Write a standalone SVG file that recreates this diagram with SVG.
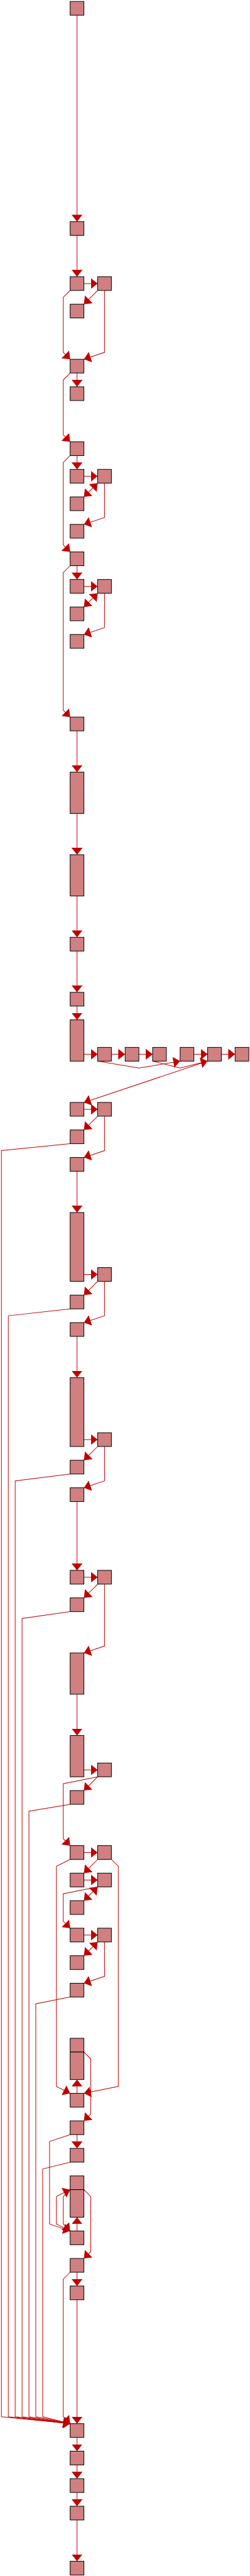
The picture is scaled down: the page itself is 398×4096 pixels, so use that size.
<svg xmlns="http://www.w3.org/2000/svg" width="398" height="4096" viewBox="0 0 398 4096">
<style>
.n{fill:#d08080;stroke:#000;stroke-width:1.1}
.e{fill:none;stroke:#c00000;stroke-width:1.1;marker-end:url(#a)}
.b{marker-start:url(#a)}
</style>
<defs>
<marker id="a" viewBox="0 0 12 19" refX="12" refY="9.5" markerWidth="12" markerHeight="19" markerUnits="userSpaceOnUse" orient="auto-start-reverse"><path d="M0,0L12,9.5L0,19z" fill="#c00000"/></marker>
</defs>
<rect width="398" height="4096" fill="#fff"/>
<g transform="scale(0.9118)">
<g id="connectors">
<path class="e" d="M134.5,26.5V386.5"/>
<path class="e" d="M134.5,410.5V482.5"/>
<path class="e" d="M146.5,494.5H170.5"/>
<path class="e" d="M170.5,506.5L146.5,530.5"/>
<path class="e" d="M122.5,506.5L110.5,518.5V614.5L122.5,626.5"/>
<path class="e" d="M182.5,506.5V614.5L146.5,626.5"/>
<path class="e" d="M134.5,650.5V674.5"/>
<path class="e" d="M122.5,650.5L110.5,662.5V758.5L122.5,770.5"/>
<path class="e" d="M134.5,794.5V818.5"/>
<path class="e" d="M122.5,794.5L110.5,806.5V950.5L122.5,962.5"/>
<path class="e" d="M146.5,830.5H170.5"/>
<path class="e b" d="M170.5,842.5L146.5,866.5"/>
<path class="e" d="M182.5,842.5V902.5L146.5,914.5"/>
<path class="e" d="M134.5,986.5V1010.5"/>
<path class="e" d="M122.5,986.5L110.5,998.5V1238.5L122.5,1250.5"/>
<path class="e" d="M146.5,1022.5H170.5"/>
<path class="e b" d="M170.5,1034.5L146.5,1058.5"/>
<path class="e" d="M182.5,1034.5V1094.5L146.5,1106.5"/>
<path class="e" d="M134.5,1274.5V1346.5"/>
<path class="e" d="M134.5,1418.5V1490.5"/>
<path class="e" d="M134.5,1562.5V1634.5"/>
<path class="e" d="M134.5,1658.5V1730.5"/>
<path class="e" d="M134.5,1754.5V1778.5"/>
<path class="e" d="M146.5,1838.5H170.5"/>
<path class="e" d="M194.5,1838.5H218.5"/>
<path class="e" d="M242.5,1838.5H266.5"/>
<path class="e" d="M338.5,1838.5H362.5"/>
<path class="e" d="M386.5,1838.5H410.5"/>
<path class="e" d="M170.5,1850.5L242.5,1862.5L314.5,1850.5"/>
<path class="e" d="M266.5,1850.5L314.5,1862.5L362.5,1850.5"/>
<path class="e" d="M362.5,1850.5L146.5,1922.5"/>
<path class="e" d="M146.5,1934.5H170.5"/>
<path class="e" d="M170.5,1946.5L146.5,1970.5"/>
<path class="e" d="M182.5,1946.5V2006.5L146.5,2018.5"/>
<path class="e" d="M122.5,1994.5L2.5,2006.5V4214.5L122.5,4226.5"/>
<path class="e" d="M134.5,2042.5V2114.5"/>
<path class="e" d="M146.5,2222.5H170.5"/>
<path class="e" d="M170.5,2234.5L146.5,2258.5"/>
<path class="e" d="M182.5,2234.5V2294.5L146.5,2306.5"/>
<path class="e" d="M122.5,2282.5L14.5,2294.5V4214.5L122.5,4226.5"/>
<path class="e" d="M134.5,2330.5V2402.5"/>
<path class="e" d="M146.5,2510.5H170.5"/>
<path class="e" d="M170.5,2522.5L146.5,2546.5"/>
<path class="e" d="M182.5,2522.5V2582.5L146.5,2594.5"/>
<path class="e" d="M122.5,2570.5L26.5,2582.5V4214.5L122.5,4226.5"/>
<path class="e" d="M134.5,2618.5V2738.5"/>
<path class="e" d="M146.5,2750.5H170.5"/>
<path class="e" d="M170.5,2762.5L146.5,2786.5"/>
<path class="e" d="M182.5,2762.5V2870.5L146.5,2882.5"/>
<path class="e" d="M122.5,2810.5L38.5,2822.5V4214.5L122.5,4226.5"/>
<path class="e" d="M134.5,2954.5V3026.5"/>
<path class="e" d="M146.5,3086.5H170.5"/>
<path class="e" d="M170.5,3098.5L146.5,3122.5"/>
<path class="e" d="M170.5,3098.5L110.5,3110.5V3206.5L122.5,3218.5"/>
<path class="e" d="M122.5,3146.5L50.5,3158.5V4214.5L122.5,4226.5"/>
<path class="e" d="M146.5,3230.5H170.5"/>
<path class="e" d="M170.5,3242.5L146.5,3266.5"/>
<path class="e" d="M122.5,3242.5L98.5,3254.5V3638.5L122.5,3650.5"/>
<path class="e" d="M194.5,3242.5L206.5,3254.5V3638.5L146.5,3650.5"/>
<path class="e" d="M146.5,3278.5H170.5"/>
<path class="e b" d="M170.5,3290.5L146.5,3314.5"/>
<path class="e" d="M170.5,3290.5L110.5,3302.5V3350.5L122.5,3362.5"/>
<path class="e" d="M146.5,3374.5H170.5"/>
<path class="e b" d="M170.5,3386.5L146.5,3410.5"/>
<path class="e" d="M182.5,3386.5V3446.5L146.5,3458.5"/>
<path class="e" d="M122.5,3482.5L62.5,3494.5V4214.5L122.5,4226.5"/>
<path class="e" d="M134.5,3650.5V3626.5"/>
<path class="e" d="M146.5,3578.5L158.5,3590.5V3686.5L146.5,3698.5"/>
<path class="e" d="M134.5,3722.5V3746.5"/>
<path class="e" d="M122.5,3722.5L86.5,3734.5V3878.5L122.5,3890.5"/>
<path class="e" d="M122.5,3770.5L74.5,3782.5V4214.5L122.5,4226.5"/>
<path class="e" d="M134.5,3890.5V3866.5"/>
<path class="e" d="M122.5,3890.5L98.5,3878.5V3830.5L122.5,3818.5"/>
<path class="e" d="M122.5,3818.5L110.5,3830.5V3878.5L122.5,3890.5"/>
<path class="e" d="M146.5,3818.5L158.5,3830.5V3926.5L146.5,3938.5"/>
<path class="e" d="M134.5,3962.5V3986.5"/>
<path class="e" d="M122.5,3962.5L110.5,3974.5V4214.5L122.5,4226.5"/>
<path class="e" d="M134.5,4010.5V4226.5"/>
<path class="e" d="M134.5,4250.5V4274.5"/>
<path class="e" d="M134.5,4298.5V4322.5"/>
<path class="e" d="M134.5,4346.5V4370.5"/>
<path class="e" d="M134.5,4394.5V4466.5"/>
</g>
<g id="n0"><rect class="n" x="122.5" y="2.5" width="24" height="24"/></g>
<g id="n8"><rect class="n" x="122.5" y="386.5" width="24" height="24"/></g>
<g id="n10"><rect class="n" x="122.5" y="482.5" width="24" height="24"/></g>
<g id="n10b"><rect class="n" x="170.5" y="482.5" width="24" height="24"/></g>
<g id="n11"><rect class="n" x="122.5" y="530.5" width="24" height="24"/></g>
<g id="n13"><rect class="n" x="122.5" y="626.5" width="24" height="24"/></g>
<g id="n14"><rect class="n" x="122.5" y="674.5" width="24" height="24"/></g>
<g id="n16"><rect class="n" x="122.5" y="770.5" width="24" height="24"/></g>
<g id="n17"><rect class="n" x="122.5" y="818.5" width="24" height="24"/></g>
<g id="n17b"><rect class="n" x="170.5" y="818.5" width="24" height="24"/></g>
<g id="n18"><rect class="n" x="122.5" y="866.5" width="24" height="24"/></g>
<g id="n19"><rect class="n" x="122.5" y="914.5" width="24" height="24"/></g>
<g id="n20"><rect class="n" x="122.5" y="962.5" width="24" height="24"/></g>
<g id="n21"><rect class="n" x="122.5" y="1010.5" width="24" height="24"/></g>
<g id="n21b"><rect class="n" x="170.5" y="1010.5" width="24" height="24"/></g>
<g id="n22"><rect class="n" x="122.5" y="1058.5" width="24" height="24"/></g>
<g id="n23"><rect class="n" x="122.5" y="1106.5" width="24" height="24"/></g>
<g id="n26"><rect class="n" x="122.5" y="1250.5" width="24" height="24"/></g>
<g id="n28"><rect class="n" x="122.5" y="1346.5" width="24" height="72"/></g>
<g id="n31"><rect class="n" x="122.5" y="1490.5" width="24" height="72"/></g>
<g id="n34"><rect class="n" x="122.5" y="1634.5" width="24" height="24"/></g>
<g id="n36"><rect class="n" x="122.5" y="1730.5" width="24" height="24"/></g>
<g id="n37"><rect class="n" x="122.5" y="1778.5" width="24" height="72"/></g>
<g id="n38a"><rect class="n" x="170.5" y="1826.5" width="24" height="24"/></g>
<g id="n38b"><rect class="n" x="218.5" y="1826.5" width="24" height="24"/></g>
<g id="n38c"><rect class="n" x="266.5" y="1826.5" width="24" height="24"/></g>
<g id="n38d"><rect class="n" x="314.5" y="1826.5" width="24" height="24"/></g>
<g id="n38e"><rect class="n" x="362.5" y="1826.5" width="24" height="24"/></g>
<g id="n38f"><rect class="n" x="410.5" y="1826.5" width="24" height="24"/></g>
<g id="n40"><rect class="n" x="122.5" y="1922.5" width="24" height="24"/></g>
<g id="n40b"><rect class="n" x="170.5" y="1922.5" width="24" height="24"/></g>
<g id="n41"><rect class="n" x="122.5" y="1970.5" width="24" height="24"/></g>
<g id="n42"><rect class="n" x="122.5" y="2018.5" width="24" height="24"/></g>
<g id="n44"><rect class="n" x="122.5" y="2114.5" width="24" height="120"/></g>
<g id="n46b"><rect class="n" x="170.5" y="2210.5" width="24" height="24"/></g>
<g id="n47"><rect class="n" x="122.5" y="2258.5" width="24" height="24"/></g>
<g id="n48"><rect class="n" x="122.5" y="2306.5" width="24" height="24"/></g>
<g id="n50"><rect class="n" x="122.5" y="2402.5" width="24" height="120"/></g>
<g id="n52b"><rect class="n" x="170.5" y="2498.5" width="24" height="24"/></g>
<g id="n53"><rect class="n" x="122.5" y="2546.5" width="24" height="24"/></g>
<g id="n54"><rect class="n" x="122.5" y="2594.5" width="24" height="24"/></g>
<g id="n57"><rect class="n" x="122.5" y="2738.5" width="24" height="24"/></g>
<g id="n57b"><rect class="n" x="170.5" y="2738.5" width="24" height="24"/></g>
<g id="n58"><rect class="n" x="122.5" y="2786.5" width="24" height="24"/></g>
<g id="n60"><rect class="n" x="122.5" y="2882.5" width="24" height="72"/></g>
<g id="n63"><rect class="n" x="122.5" y="3026.5" width="24" height="72"/></g>
<g id="n64b"><rect class="n" x="170.5" y="3074.5" width="24" height="24"/></g>
<g id="n65"><rect class="n" x="122.5" y="3122.5" width="24" height="24"/></g>
<g id="n67"><rect class="n" x="122.5" y="3218.5" width="24" height="24"/></g>
<g id="n67b"><rect class="n" x="170.5" y="3218.5" width="24" height="24"/></g>
<g id="n68"><rect class="n" x="122.5" y="3266.5" width="24" height="24"/></g>
<g id="n68b"><rect class="n" x="170.5" y="3266.5" width="24" height="24"/></g>
<g id="n69"><rect class="n" x="122.5" y="3314.5" width="24" height="24"/></g>
<g id="n70"><rect class="n" x="122.5" y="3362.5" width="24" height="24"/></g>
<g id="n70b"><rect class="n" x="170.5" y="3362.5" width="24" height="24"/></g>
<g id="n71"><rect class="n" x="122.5" y="3410.5" width="24" height="24"/></g>
<g id="n72"><rect class="n" x="122.5" y="3458.5" width="24" height="24"/></g>
<g id="n74"><rect class="n" x="122.5" y="3554.5" width="24" height="24"/></g>
<g id="n75"><rect class="n" x="122.5" y="3578.5" width="24" height="48"/></g>
<g id="n76"><rect class="n" x="122.5" y="3650.5" width="24" height="24"/></g>
<g id="n77"><rect class="n" x="122.5" y="3698.5" width="24" height="24"/></g>
<g id="n78"><rect class="n" x="122.5" y="3746.5" width="24" height="24"/></g>
<g id="n79"><rect class="n" x="122.5" y="3794.5" width="24" height="24"/></g>
<g id="n80"><rect class="n" x="122.5" y="3818.5" width="24" height="48"/></g>
<g id="n81"><rect class="n" x="122.5" y="3890.5" width="24" height="24"/></g>
<g id="n82"><rect class="n" x="122.5" y="3938.5" width="24" height="24"/></g>
<g id="n83"><rect class="n" x="122.5" y="3986.5" width="24" height="24"/></g>
<g id="n88"><rect class="n" x="122.5" y="4226.5" width="24" height="24"/></g>
<g id="n89"><rect class="n" x="122.5" y="4274.5" width="24" height="24"/></g>
<g id="n90"><rect class="n" x="122.5" y="4322.5" width="24" height="24"/></g>
<g id="n91"><rect class="n" x="122.5" y="4370.5" width="24" height="24"/></g>
<g id="n93"><rect class="n" x="122.5" y="4466.5" width="24" height="24"/></g>
</g>
</svg>
